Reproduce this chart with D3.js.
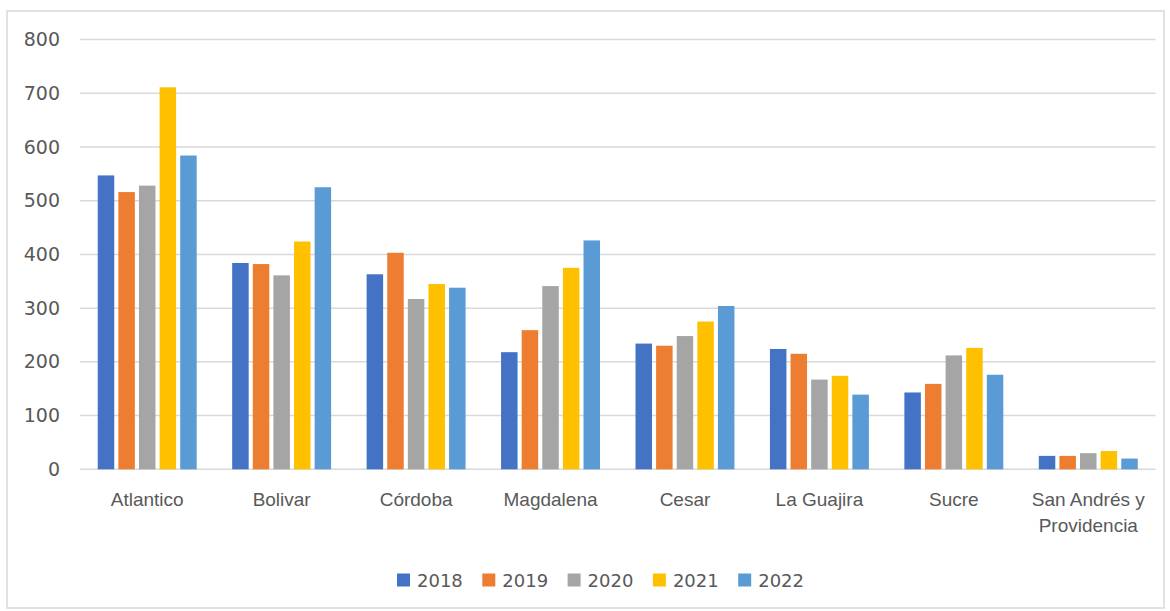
<!DOCTYPE html>
<html><head><meta charset="utf-8">
<script src="https://cdn.jsdelivr.net/npm/d3@7"></script>
<style>body{margin:0;background:#fff;} svg{display:block;font-family:"DejaVu Sans",sans-serif;}</style>
</head><body><svg id="c" width="1170" height="611"></svg>
<script>
const categories = ["Atlantico","Bolivar","Córdoba","Magdalena","Cesar","La Guajira","Sucre","San Andrés y\nProvidencia"];
const years = ["2018","2019","2020","2021","2022"];
const colors = ["#4472C4","#ED7D31","#A5A5A5","#FFC000","#5B9BD5"];
const v2018 = [547,384,363,218,234,224,143,25];
const v2019 = [516,382,403,259,230,215,159,25];
const v2020 = [528,361,317,341,248,167,212,30];
const v2021 = [711,424,345,375,275,174,226,34];
const v2022 = [584,525,338,426,304,139,176,20];
const series = [v2018,v2019,v2020,v2021,v2022];
const yTicks = [0,100,200,300,400,500,600,700,800];

const svg = d3.select("#c");
svg.append("rect").attr("x",7).attr("y",11).attr("width",1157).attr("height",597)
  .attr("fill","#fff").attr("stroke","#d9d9d9").attr("stroke-width",1.5);

const m = {l:80,r:1155.5,t:39.5,b:469.3};
const x0 = d3.scaleBand().domain(categories).range([m.l,m.r]).paddingInner(0.264).paddingOuter(0.132);
const x1 = d3.scaleBand().domain(years).range([0,x0.bandwidth()]).paddingInner(0.2);
const y = d3.scaleLinear().domain([0,800]).range([m.b,m.t]);

const grid = svg.append("g");
grid.selectAll("line").data(yTicks).join("line")
  .attr("x1",m.l).attr("x2",m.r).attr("y1",d=>y(d)).attr("y2",d=>y(d))
  .attr("stroke","#d9d9d9").attr("stroke-width",1.5);

const yAxis = svg.append("g").attr("transform",`translate(60,0)`)
  .call(d3.axisLeft(y).tickValues(yTicks).tickSize(0).tickPadding(0));
yAxis.select(".domain").remove();
yAxis.selectAll("text").attr("fill","#595959").style("font-size","19px").style("font-family","'DejaVu Sans',sans-serif");

const groups = svg.append("g").selectAll("g").data(categories).join("g")
  .attr("transform",d=>`translate(${x0(d)},0)`);
groups.selectAll("rect").data((d,i)=>series.map((s,k)=>({year:years[k],v:s[i],c:colors[k]}))).join("rect")
  .attr("x",d=>x1(d.year)).attr("width",x1.bandwidth())
  .attr("y",d=>y(d.v)).attr("height",d=>y(0)-y(d.v)).attr("fill",d=>d.c);

const xAxis = svg.append("g").attr("transform",`translate(0,${m.b})`)
  .call(d3.axisBottom(x0).tickSize(0).tickPadding(0).tickFormat(""));
xAxis.select(".domain").remove();
xAxis.selectAll(".tick").each(function(d){
  const lines = d.split("\n");
  const t = d3.select(this).append("text").attr("fill","#595959").attr("text-anchor","middle")
    .style("font-size","19px").attr("y",37);
  lines.forEach((ln,i)=>t.append("tspan").attr("x",0).attr("dy",i?26:0).text(ln));
});

const leg = svg.append("g").attr("transform","translate(397,580)");
const li = leg.selectAll("g").data(years).join("g").attr("transform",(d,i)=>`translate(${i*85.3},0)`);
li.append("rect").attr("x",0).attr("y",-6.5).attr("width",13).attr("height",13).attr("fill",(d,i)=>colors[i]);
li.append("text").attr("x",20).attr("y",6.5).attr("fill","#595959").style("font-size","18px").text(d=>d);
</script></body></html>
